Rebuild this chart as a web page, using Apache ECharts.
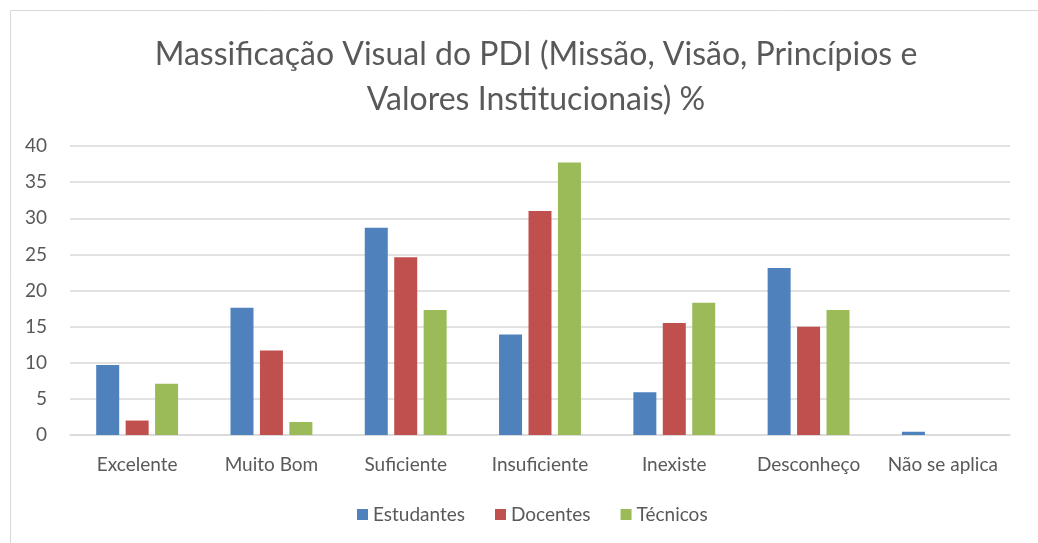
<!DOCTYPE html>
<html><head><meta charset="utf-8">
<script src="https://cdn.jsdelivr.net/npm/echarts@6/dist/echarts.min.js"></script>
<style>html,body{margin:0;padding:0;background:#fff}#c{width:1038px;height:543px}</style>
</head><body><div id="c"></div>
<script>
const categories = ['Excelente','Muito Bom','Suficiente','Insuficiente','Inexiste','Desconheço','Não se aplica'];
const estudantes = [9.7, 17.6, 28.7, 13.9, 5.9, 23.1, 0.45];
const docentes = [2.0, 11.7, 24.6, 31.0, 15.5, 15.0, 0];
const tecnicos = [7.1, 1.8, 17.3, 37.7, 18.3, 17.3, 0];
const yTicks = [0, 5, 10, 15, 20, 25, 30, 35, 40];
const titleText = 'Massificação Visual do PDI (Missão, Visão, Princípios e\nValores Institucionais) %';

const font = 'Lato, "Liberation Sans Narrow", sans-serif';
const chart = echarts.init(document.getElementById('c'));
const mk = (name, data, color) => ({
  name, type: 'bar', data, barWidth: 23, barGap: '28%',
  itemStyle: { color }
});
chart.setOption({
  animation: false,
  graphic: [{ type: 'rect', shape: { x: 10.5, y: 10.5, width: 1100, height: 600 },
    style: { fill: 'none', stroke: '#d9d9d9', lineWidth: 1 }, silent: true }],
  title: { text: titleText, left: 531, top: 27, textAlign: 'center',
    textStyle: { fontFamily: font, fontWeight: 400, fontSize: 32, color: '#595959', lineHeight: 45 } },
  grid: { left: 70, right: 28, top: 146, bottom: 108, containLabel: false },
  legend: { bottom: 14, left: 352, itemWidth: 11, itemHeight: 11, itemGap: 30,
    icon: 'rect', textStyle: { fontFamily: font, fontSize: 19, color: '#595959' },
    data: ['Estudantes','Docentes','Técnicos'] },
  xAxis: { type: 'category', data: categories,
    axisLine: { lineStyle: { color: '#d9d9d9', width: 1.5 } }, axisTick: { show: false },
    axisLabel: { fontFamily: font, fontSize: 19, color: '#595959', margin: 20, interval: 0 } },
  yAxis: { type: 'value', min: yTicks[0], max: yTicks[yTicks.length-1], interval: 5,
    axisLine: { show: false }, axisTick: { show: false },
    splitLine: { lineStyle: { color: '#d9d9d9', width: 1.5 } },
    axisLabel: { fontFamily: font, fontSize: 19, color: '#595959', margin: 23 } },
  series: [mk('Estudantes', estudantes, '#4F81BD'), mk('Docentes', docentes, '#C0504D'), mk('Técnicos', tecnicos, '#9BBB59')]
});
</script></body></html>
